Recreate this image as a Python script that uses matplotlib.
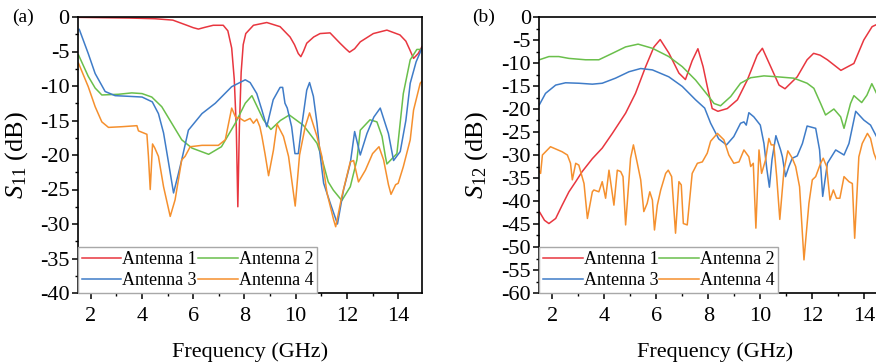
import matplotlib
matplotlib.use("Agg")
import matplotlib.pyplot as plt
from matplotlib.ticker import MultipleLocator

plt.rcParams['font.family'] = ['Liberation Serif', 'DejaVu Serif']
plt.rcParams['mathtext.fontset'] = 'custom'
plt.rcParams['mathtext.rm'] = 'Liberation Serif'
plt.rcParams['mathtext.it'] = 'Liberation Serif:italic'
plt.rcParams['mathtext.default'] = 'it'
plt.rcParams['axes.unicode_minus'] = False

# ---------------- data (a) S11 ----------------
f_a1 = [1.5, 2.5, 3.5, 4.5, 5.2, 5.75, 6.0, 6.2, 6.45, 6.78, 7.17, 7.35, 7.5, 7.6, 7.68, 7.74, 7.8, 7.87,
        7.95, 8.05, 8.35, 8.87, 9.39, 9.78, 9.95, 10.1, 10.2, 10.3, 10.43, 10.7, 10.95, 11.34, 11.73, 11.95,
        12.1, 12.3, 12.52, 13.03, 13.56, 14.07, 14.3, 14.46, 14.6, 14.78, 14.93]
s11_a1 = [-0.05, -0.1, -0.15, -0.25, -0.45, -1.2, -1.55, -1.75, -1.5, -1.2, -1.2, -2.0, -4.5, -9, -16, -27.5,
          -16, -8, -4, -2.4, -1.2, -0.8, -1.4, -2.9, -4.0, -5.3, -5.75, -5.0, -3.8, -2.9, -2.4, -2.3, -3.8,
          -4.6, -5.1, -4.6, -3.6, -2.4, -1.9, -2.6, -3.5, -4.8, -6.0, -5.3, -4.3]

f_a2 = [1.52, 1.9, 2.17, 2.43, 3.08, 3.6, 4.0, 4.38, 4.77, 5.16, 5.55, 5.95, 6.6, 7.1, 7.64, 8.03, 8.29, 8.74,
        9.03, 9.4, 9.75, 10.3, 10.83, 11.0, 11.27, 11.47, 11.8, 12.13, 12.39, 12.52, 12.9, 13.17, 13.37, 13.5,
        13.56, 13.95, 14.2, 14.47, 14.73, 14.93]
s11_a2 = [-5.5, -8.6, -10.3, -11.3, -11.2, -11.0, -11.1, -11.6, -13, -15.4, -17.8, -19, -19.9, -18.8, -15.4,
          -12.5, -11.4, -14.9, -16.3, -15.0, -14.2, -15.7, -18.3, -20.2, -23.9, -25.1, -26.6, -24.6, -20.7,
          -16.4, -14.9, -15.2, -17.3, -20.2, -21.3, -19.8, -11.1, -6.2, -4.7, -4.7]

f_a3 = [1.55, 1.9, 2.17, 2.56, 2.95, 3.5, 4.0, 4.4, 4.64, 4.84, 5.03, 5.23, 5.4, 5.55, 5.81, 6.34, 6.86, 7.5,
        8.03, 8.22, 8.48, 8.68, 8.87, 9.12, 9.39, 9.49, 9.58, 9.67, 9.84, 9.97, 10.1, 10.23, 10.43, 10.54,
        10.69, 10.83, 10.96, 11.09, 11.35, 11.63, 11.87, 12.13, 12.3, 12.52, 12.78, 13.05, 13.3, 13.62, 13.82,
        14.08, 14.3, 14.47, 14.7, 14.93]
s11_a3 = [-1.8, -5.3, -8.2, -10.8, -11.4, -11.5, -11.6, -12.3, -14, -16.8, -21, -25.5, -23, -20.7, -16.4, -14,
          -12.5, -10.1, -9.1, -9.5, -11.1, -13.5, -15.9, -12, -10.2, -10.2, -12.5, -13.2, -15.9, -19.8, -19.8,
          -15.9, -10.6, -9.5, -11.5, -15.4, -20.2, -24.1, -27, -30, -25, -21.2, -16.6, -20, -16.9, -14.5,
          -13.2, -16.9, -20.8, -19.5, -15, -9.6, -6.5, -4.5]

f_a4 = [1.52, 1.9, 2.17, 2.43, 2.69, 3.21, 3.8, 3.86, 4.19, 4.25, 4.32, 4.41, 4.5, 4.64, 4.84, 5.1, 5.29, 5.55,
        5.68, 5.88, 6.34, 6.98, 7.25, 7.5, 7.65, 7.83, 8.0, 8.22, 8.35, 8.48, 8.6, 8.68, 8.8, 8.94, 9.13, 9.27,
        9.52, 9.72, 9.98, 10.15, 10.37, 10.54, 10.83, 11.02, 11.22, 11.48, 11.56, 11.8, 12.13, 12.26, 12.45,
        12.72, 13.0, 13.25, 13.43, 13.62, 13.72, 13.9, 14.0, 14.2, 14.47, 14.6, 14.86, 14.93]
s11_a4 = [-6.7, -10.1, -13, -15.2, -16, -15.9, -15.75, -16.5, -17, -20.2, -25, -18.4, -19, -20.2, -24.6, -28.9,
          -26.5, -20.7, -20.2, -18.8, -18.6, -18.6, -17.8, -13.2, -14.5, -14.7, -15.1, -14.7, -15.4, -14.8,
          -15.9, -17.3, -19.8, -23, -19.3, -15.5, -17.3, -20.2, -27.4, -20, -15.9, -13.9, -17.3, -20.2, -25.5,
          -29.4, -30.4, -26, -21, -20.8, -23.9, -22.2, -19.8, -18.8, -20.7, -24.3, -25.7, -24.3, -24.1, -21.7,
          -17.8, -13.5, -9.6, -9.3]

# ---------------- data (b) S12 ----------------
f_b1 = [1.5, 1.7, 1.87, 2.13, 2.38, 2.64, 2.9, 3.15, 3.54, 3.92, 4.31, 4.82, 5.2, 5.59, 5.91, 6.15, 6.49, 6.87,
        7.12, 7.38, 7.6, 7.8, 7.96, 8.15, 8.37, 8.73, 9.12, 9.5, 9.88, 10.08, 10.4, 10.72, 10.95, 11.42, 11.8,
        12.05, 12.3, 12.58, 13.1, 13.6, 13.98, 14.3, 14.6, 14.93]
s12_b1 = [-42.3, -44.2, -44.9, -43.8, -40.9, -38, -35.8, -33.6, -30.8, -28.5, -25.3, -20.9, -16.6, -10.8, -6.5,
          -4.9, -7.9, -12.2, -13.6, -9.5, -6.9, -10.8, -15.1, -19.9, -20.5, -19.9, -18, -13.7, -8.3, -6.8,
          -10.8, -14.8, -15.6, -13, -9.3, -7.9, -8.3, -9.3, -11.6, -10.1, -5, -2.1, -1.3, -1.0]

f_b2 = [1.5, 1.87, 2.25, 2.64, 3.28, 3.79, 4.31, 4.82, 5.3, 5.85, 6.48, 7.0, 7.51, 8.02, 8.22, 8.47, 8.86, 9.24,
        9.63, 10.14, 10.65, 11.29, 11.8, 12.06, 12.32, 12.51, 12.83, 13.09, 13.22, 13.47, 13.6, 13.9, 14.1,
        14.29, 14.47, 14.7, 14.93]
s12_b2 = [-9.3, -8.6, -8.6, -9, -9.3, -9.3, -7.9, -6.5, -5.9, -6.8, -8.6, -10.8, -13.7, -17.3, -18.8, -19.3,
          -17.3, -14.4, -13.2, -12.8, -13, -13.3, -14.4, -15.5, -18.8, -21.3, -20, -21.7, -24.2, -18.8, -17.1,
          -18.6, -17, -14.5, -16.6, -17, -16]

f_b3 = [1.5, 1.74, 2.13, 2.51, 3.02, 3.54, 3.92, 4.43, 4.95, 5.4, 5.85, 6.48, 7.0, 7.51, 7.86, 8.09, 8.4, 8.7,
        8.98, 9.24, 9.37, 9.46, 9.56, 9.75, 10.0, 10.14, 10.25, 10.35, 10.45, 10.6, 10.78, 10.85, 10.97, 11.1,
        11.23, 11.42, 11.62, 11.8, 12.13, 12.28, 12.4, 12.58, 12.9, 13.22, 13.41, 13.67, 13.98, 14.24, 14.47,
        14.7, 14.93]
s12_b3 = [-19.1, -16.6, -14.8, -14.3, -14.4, -14.6, -14.4, -13.3, -11.9, -11.2, -11.5, -13, -15.1, -18, -19.8,
          -23.1, -26.5, -27.8, -26, -23.1, -22.8, -23.5, -20.8, -21.7, -23.5, -27.5, -33, -37, -31, -25.8,
          -28.9, -30.4, -34.7, -32.5, -30.7, -30.2, -27.5, -23.7, -24.2, -28.9, -39, -31.8, -28.9, -30, -27.5,
          -20.5, -22.4, -23.5, -26, -28, -30]

f_b4 = [1.5, 1.55, 1.62, 1.93, 2.38, 2.58, 2.7, 2.77, 2.9, 3.02, 3.22, 3.35, 3.54, 3.6, 3.79, 3.92, 4.05, 4.18,
        4.37, 4.5, 4.63, 4.72, 4.82, 5.01, 5.12, 5.27, 5.4, 5.52, 5.65, 5.75, 5.85, 5.93, 6.04, 6.17, 6.36,
        6.46, 6.59, 6.74, 6.87, 6.96, 7.04, 7.19, 7.38, 7.58, 7.77, 7.96, 8.09, 8.35, 8.6, 8.79, 8.98, 9.18,
        9.37, 9.56, 9.63, 9.73, 9.83, 9.95, 10.05, 10.2, 10.33, 10.42, 10.52, 10.63, 10.75, 10.91, 11.06,
        11.23, 11.36, 11.51, 11.68, 11.87, 12.0, 12.13, 12.32, 12.42, 12.55, 12.68, 12.81, 12.93, 13.06,
        13.22, 13.41, 13.54, 13.63, 13.79, 13.92, 14.12, 14.24, 14.37, 14.47, 14.7, 14.93]
s12_b4 = [-33.5, -34, -30, -28.2, -29.3, -30, -31.8, -35.4, -31.8, -32.2, -36.2, -43.8, -38, -37.6, -38, -35.8,
          -39.4, -33.3, -40.9, -33.3, -33.6, -34.7, -45.2, -30.7, -27.8, -31.8, -35.4, -42.3, -40.5, -38,
          -39.8, -46.3, -40.9, -37.6, -34, -33.3, -34.7, -47, -35.8, -36.5, -44.9, -45.2, -34, -31.8, -31.5,
          -29.6, -27, -25.3, -26.7, -30, -31.8, -31.5, -28.9, -30.4, -32.5, -31.8, -45.9, -28.9, -34, -31.1,
          -26.4, -27.8, -27.8, -34.7, -44, -33.3, -29.1, -30.7, -32.5, -36.9, -52.8, -40.5, -35.4, -34.7,
          -31.8, -30.7, -32.5, -39.8, -37.6, -39.4, -39.4, -34.7, -35.8, -36.2, -48.1, -30.4, -27.5, -25.3,
          -26.4, -29.6, -31.1, -33, -33]

labels = ['Antenna 1', 'Antenna 2', 'Antenna 3', 'Antenna 4']
colors = ['#e8363f', '#6abf4b', '#3f7cc8', '#f5902e']

W, H = 876, 364
fig = plt.figure(figsize=(W / 100, H / 100), dpi=100)

def px_ax(x0, y0, x1, y1):
    return [x0 / W, 1 - y1 / H, (x1 - x0) / W, (y1 - y0) / H]

ax1 = fig.add_axes(px_ax(78, 17, 422, 293))
ax2 = fig.add_axes(px_ax(539.3, 17, 890.3, 293))

panels = [
    (ax1, [(f_a1, s11_a1), (f_a2, s11_a2), (f_a3, s11_a3), (f_a4, s11_a4)], (-40, 0), 14.93,
     r'$S_{11}$ (dB)', '(a)', 12),
    (ax2, [(f_b1, s12_b1), (f_b2, s12_b2), (f_b3, s12_b3), (f_b4, s12_b4)], (-60, 0), 15.0,
     r'$S_{12}$ (dB)', '(b)', 472),
]

for ax, series, ylim, xmax, ylab, tag, tagx in panels:
    lines = []
    for (fx, fy), lab, c in zip(series, labels, colors):
        ln, = ax.plot(fx, fy, color=c, lw=1.1, label=lab)
        lines.append(ln)
    ax.set_xlim(1.5, xmax)
    ax.set_ylim(*ylim)
    ax.xaxis.set_major_locator(MultipleLocator(2))
    ax.xaxis.set_minor_locator(MultipleLocator(1))
    ax.yaxis.set_major_locator(MultipleLocator(5))
    ax.yaxis.set_minor_locator(MultipleLocator(2.5))
    ax.tick_params(which='major', direction='out', length=4, width=1.1, labelsize=16, pad=2,
                   top=False, right=False)
    ax.tick_params(axis='x', which='major', pad=6)
    ax.tick_params(which='minor', direction='out', length=2.5, width=1.0, top=False, right=False)
    for s in ax.spines.values():
        s.set_linewidth(1.2)
    ax.set_xlabel('Frequency (GHz)', fontsize=16, labelpad=12)
    ax.set_ylabel(ylab, fontsize=19)
    ax.yaxis.set_label_coords(-0.14, 0.5)
    order = [lines[0], lines[2], lines[1], lines[3]]
    leg = ax.legend(order, [l.get_label() for l in order], ncol=2, loc='lower left',
                    borderaxespad=0, fontsize=13, handlelength=2.2, handletextpad=0.05,
                    columnspacing=0.05, labelspacing=0.25, borderpad=0.2, fancybox=False,
                    framealpha=1, edgecolor='#a8a8a8')
    leg.get_frame().set_linewidth(1.0)
    fig.text(tagx / W, 1 - 17 / H, tag, fontsize=14, va='center', ha='left')

fig.savefig('out.png', dpi=100)
